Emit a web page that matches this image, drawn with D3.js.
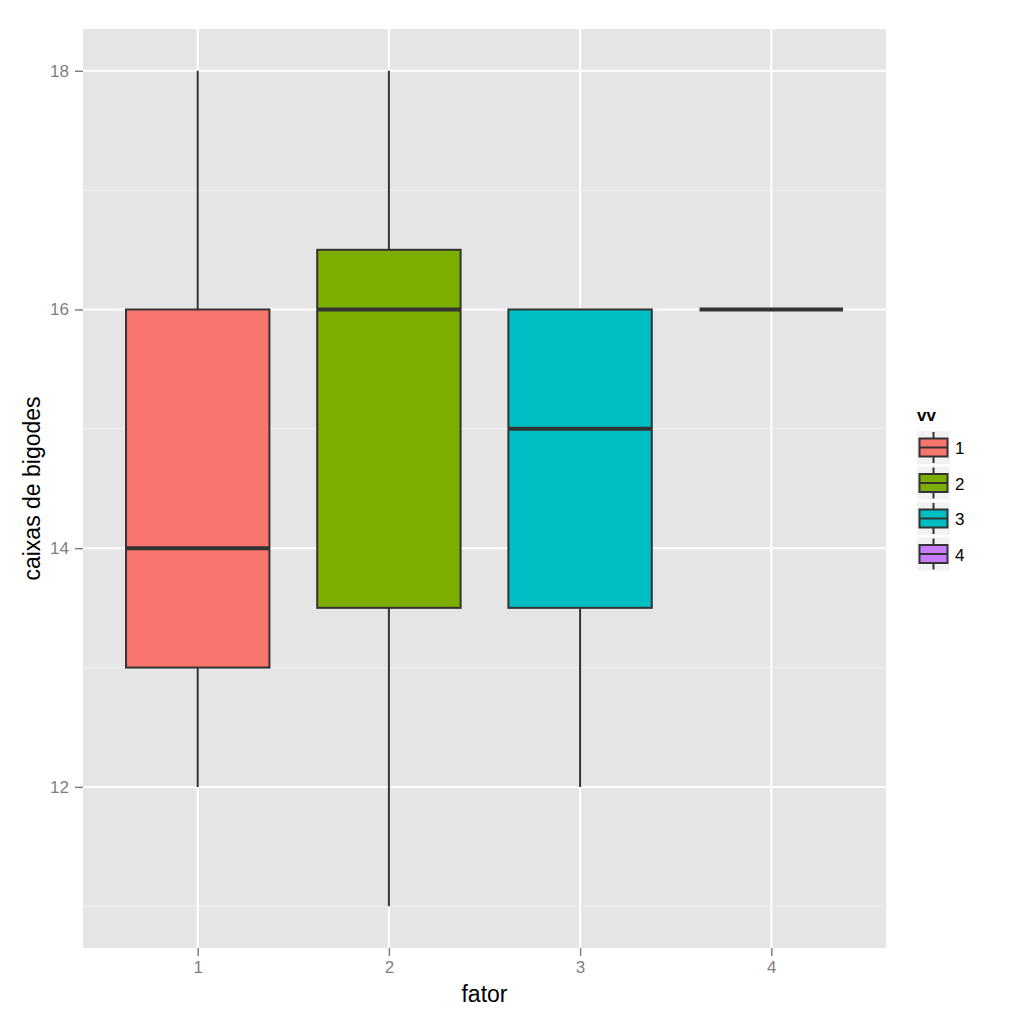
<!DOCTYPE html>
<html>
<head>
<meta charset="utf-8">
<script src="https://cdn.jsdelivr.net/npm/d3@7"></script>
<style>
  body { margin: 0; background: #fff; }
  text { font-family: "Liberation Sans", Arial, sans-serif; }
</style>
</head>
<body>
<div id="chart"></div>
<script>
// data
const categories = ["1", "2", "3", "4"];
const whiskerLow = [12, 11, 12, 16];
const q1 = [13, 13.5, 13.5, 16];
const median = [14, 16, 15, 16];
const q3 = [16, 16.5, 16, 16];
const whiskerHigh = [18, 18, 16, 16];
const colors = ["#F8766D", "#7CAE00", "#00BFC4", "#C77CFF"];
const yTicks = [12, 14, 16, 18];
const yMinor = [11, 13, 15, 17];

const data = categories.map((c, i) => ({
  cat: c, lo: whiskerLow[i], q1: q1[i], med: median[i], q3: q3[i], hi: whiskerHigh[i], color: colors[i]
}));

// panel dimensions
const W = 1024, H = 1024;
const panel = {left: 83, top: 29, right: 886, bottom: 948};

const svg = d3.select("#chart")
  .append("svg")
    .attr("width", W)
    .attr("height", H);

// scales: discrete x with 0.6 units expansion on each side
const step = (panel.right - panel.left) / 4.2;
const x = d3.scalePoint()
    .domain(categories)
    .range([panel.left + 0.6 * step, panel.right - 0.6 * step]);

const y = d3.scaleLinear()
    .domain([10.65, 18.35])
    .range([panel.bottom, panel.top]);

// background
svg.append("rect")
    .attr("x", panel.left).attr("y", panel.top)
    .attr("width", panel.right - panel.left)
    .attr("height", panel.bottom - panel.top)
    .attr("fill", "#E5E5E5");

// grid
svg.selectAll(".minor")
  .data(yMinor)
  .join("line")
    .attr("x1", panel.left).attr("x2", panel.right)
    .attr("y1", d => y(d)).attr("y2", d => y(d))
    .attr("stroke", "#F2F2F2").attr("stroke-width", 1);

svg.selectAll(".major")
  .data(yTicks)
  .join("line")
    .attr("x1", panel.left).attr("x2", panel.right)
    .attr("y1", d => y(d)).attr("y2", d => y(d))
    .attr("stroke", "#FFFFFF").attr("stroke-width", 2);

svg.selectAll(".vmajor")
  .data(categories)
  .join("line")
    .attr("x1", d => x(d)).attr("x2", d => x(d))
    .attr("y1", panel.top).attr("y2", panel.bottom)
    .attr("stroke", "#FFFFFF").attr("stroke-width", 2);

// axes
const yAxis = svg.append("g")
    .attr("transform", `translate(${panel.left},0)`)
    .call(d3.axisLeft(y).tickValues(yTicks).tickSize(8).tickPadding(6));
const xAxis = svg.append("g")
    .attr("transform", `translate(0,${panel.bottom})`)
    .call(d3.axisBottom(x).tickSize(8).tickPadding(5));
[yAxis, xAxis].forEach(a => {
  a.select(".domain").remove();
  a.selectAll("line").attr("stroke", "#7F7F7F").attr("stroke-width", 1.5);
  a.selectAll("text").attr("fill", "#7F7F7F").style("font-size", "17px")
    .style("font-family", "'Liberation Sans', Arial, sans-serif");
});

// boxes
const bw = step * 0.75;
const g = svg.append("g");

g.selectAll(".whisker")
  .data(data)
  .join("line")
    .attr("x1", d => x(d.cat)).attr("x2", d => x(d.cat))
    .attr("y1", d => y(d.lo)).attr("y2", d => y(d.hi))
    .attr("stroke", "#333333").attr("stroke-width", 2);

g.selectAll(".box")
  .data(data)
  .join("rect")
    .attr("x", d => x(d.cat) - bw / 2)
    .attr("y", d => y(d.q3))
    .attr("width", bw)
    .attr("height", d => y(d.q1) - y(d.q3))
    .attr("fill", d => d.color)
    .attr("stroke", "#333333").attr("stroke-width", 2);

g.selectAll(".median")
  .data(data)
  .join("line")
    .attr("x1", d => x(d.cat) - bw / 2).attr("x2", d => x(d.cat) + bw / 2)
    .attr("y1", d => y(d.med)).attr("y2", d => y(d.med))
    .attr("stroke", "#333333").attr("stroke-width", 4);

// axis titles
svg.append("text")
    .attr("x", (panel.left + panel.right) / 2)
    .attr("y", 1002)
    .attr("text-anchor", "middle")
    .style("font-size", "23px")
    .text("fator");

svg.append("text")
    .attr("transform", `translate(40,${(panel.top + panel.bottom) / 2}) rotate(-90)`)
    .attr("text-anchor", "middle")
    .style("font-size", "23px")
    .text("caixas de bigodes");

// legend
const leg = svg.append("g").attr("transform", "translate(917,431)");
leg.append("text")
    .attr("x", 0).attr("y", -10)
    .style("font-size", "17px").style("font-weight", "bold")
    .text("vv");

const keys = leg.selectAll(".key")
  .data(data)
  .join("g")
    .attr("transform", (d, i) => `translate(0,${i * 35.5})`);

keys.append("rect")
    .attr("width", 33).attr("height", 33)
    .attr("fill", "#F2F2F2");
keys.append("line")
    .attr("x1", 16.5).attr("x2", 16.5).attr("y1", 1).attr("y2", 32)
    .attr("stroke", "#333333").attr("stroke-width", 2);
keys.append("rect")
    .attr("x", 2.5).attr("y", 7.5).attr("width", 28).attr("height", 18)
    .attr("fill", d => d.color)
    .attr("stroke", "#333333").attr("stroke-width", 2);
keys.append("line")
    .attr("x1", 2.5).attr("x2", 30.5).attr("y1", 16.5).attr("y2", 16.5)
    .attr("stroke", "#333333").attr("stroke-width", 2);
keys.append("text")
    .attr("x", 38).attr("y", 23)
    .style("font-size", "17px")
    .text(d => d.cat);
</script>
</body>
</html>
